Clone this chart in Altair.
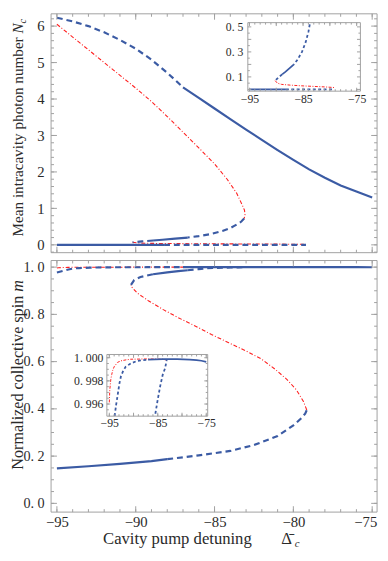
import altair as alt
import pandas as pd

FONT = "Liberation Serif"
BLUE = "#3b5ba4"
RED = "#ff1f1f"
FRAME = "#a0a0a0"
TXT = "#2a2a2a"

# ---------------- tick positions / labels ----------------
X_MAJOR = [-95, -90, -85, -80, -75]
X_MINOR = list(range(-95, -74))
NC_MAJOR = [0, 1, 2, 3, 4, 5, 6]
NC_MINOR = [round(-0.2 + 0.2 * k, 2) for k in range(33)]
M_MAJOR = [0.0, 0.2, 0.4, 0.6, 0.8, 1.0]
M_MINOR = [round(0.05 * k, 2) for k in range(21)]
NCI_X_LABELS = [-95, -85, -75]
NCI_X_MINOR = list(range(-95, -74))
NCI_Y_LABELS = [0.1, 0.3, 0.5]
NCI_Y_MAJOR = [0.0, 0.1, 0.2, 0.3, 0.4, 0.5]
NCI_Y_MINOR = [0.05, 0.15, 0.25, 0.35, 0.45]
MI_X_LABELS = [-95, -85, -75]
MI_X_MINOR = list(range(-95, -74))
MI_Y_LABELS = [0.996, 0.998, 1.0]
MI_Y_MINOR = [0.9955, 0.996, 0.9965, 0.997, 0.9975, 0.998, 0.9985, 0.999, 0.9995, 1.0]

# ---------------- data: mean intracavity photon number ----------------
NC_T1_DASH_X = [-95, -94, -93, -92, -91, -90, -89, -88, -87]
NC_T1_DASH_Y = [6.23, 6.13, 6.00, 5.83, 5.62, 5.38, 5.08, 4.72, 4.32]
NC_T1_SOLID_X = [-87, -86, -85, -84, -83, -82, -81, -80, -79, -78, -77, -76, -75]
NC_T1_SOLID_Y = [4.32, 4.03, 3.74, 3.45, 3.16, 2.88, 2.60, 2.33, 2.07, 1.84, 1.63, 1.46, 1.30]
NC_T2_RED_X = [-95, -94, -93, -92, -91, -90, -89, -88, -87, -86, -85, -84.2, -83.6, -83.25, -83.1, -83.07, -83.12]
NC_T2_RED_Y = [6.05, 5.70, 5.35, 5.00, 4.65, 4.30, 3.93, 3.52, 3.09, 2.66, 2.22, 1.80, 1.42, 1.10, 0.95, 0.83, 0.72]
NC_T3_DASH1_X = [-83.12, -83.3, -83.5, -83.75, -84.0, -84.5, -85.2, -86.0, -86.7]
NC_T3_DASH1_Y = [0.72, 0.64, 0.58, 0.52, 0.46, 0.38, 0.30, 0.24, 0.20]
NC_T3_SOLID_X = [-86.7, -87.5, -88.3, -88.9]
NC_T3_SOLID_Y = [0.20, 0.17, 0.14, 0.12]
NC_T3_DASH2_X = [-88.9, -89.6, -90.2]
NC_T3_DASH2_Y = [0.12, 0.095, 0.07]
NC_T4_RED_X = [-90.2, -89.8, -89.0, -87.0, -85.0, -83.0, -81.0, -79.2]
NC_T4_RED_Y = [0.07, 0.05, 0.04, 0.033, 0.028, 0.024, 0.02, 0.015]
NC_T5_SOLID_X = [-95, -88.2]
NC_T5_SOLID_Y = [0.0, 0.0]
NC_T5_DASH_X = [-88.2, -79.2]
NC_T5_DASH_Y = [0.0, 0.0]

# ---------------- data: normalized collective spin ----------------
M_A_SOLID_X = [-95, -93, -91, -89, -88]
M_A_SOLID_Y = [0.148, 0.157, 0.167, 0.179, 0.187]
M_A_DASH_X = [-88, -86, -84, -82.5, -81, -80, -79.5, -79.25, -79.15]
M_A_DASH_Y = [0.187, 0.203, 0.222, 0.247, 0.285, 0.33, 0.36, 0.38, 0.395]
M_B_RED_X = [-79.15, -79.35, -79.8, -80.4, -81.2, -82.05, -83.0, -84.1, -85.2, -86.2, -87.3, -88.25, -89.2, -89.9, -90.25, -90.3]
M_B_RED_Y = [0.395, 0.43, 0.48, 0.524, 0.57, 0.612, 0.645, 0.68, 0.715, 0.75, 0.786, 0.82, 0.858, 0.89, 0.915, 0.925]
M_C_DASH1_X = [-90.3, -90.1, -89.7, -88.9]
M_C_DASH1_Y = [0.925, 0.945, 0.958, 0.970]
M_C_SOLID_X = [-88.9, -88.0, -87.3, -86.7]
M_C_SOLID_Y = [0.970, 0.978, 0.983, 0.987]
M_C_DASH2_X = [-86.7, -86.0, -85.5, -85.0, -84.5, -84.0, -83.5, -83.15]
M_C_DASH2_Y = [0.987, 0.9915, 0.99516, 0.9964, 0.99755, 0.9985, 0.99908, 0.9998]
M_D_RED_X = [-95, -94.9, -94.7, -94.5, -94.3, -94.0, -93.3, -92.6, -91.5, -90.6, -87, -84, -83.15]
M_D_RED_Y = [0.99614, 0.9972, 0.9981, 0.99855, 0.9989, 0.99922, 0.9996, 0.99973, 0.99982, 0.99987, 0.9999, 0.99987, 0.9998]
M_E_DASH_X = [-95, -94.6, -94.2, -93.9, -93.6, -93.3, -92.9, -92.6, -92.1, -91.6, -90.5, -89.25, -87]
M_E_DASH_Y = [0.977, 0.984, 0.991, 0.99497, 0.9959, 0.99671, 0.9978, 0.99839, 0.9989, 0.99923, 0.99952, 0.99973, 0.99983]
M_E_SOLID_X = [-87, -84, -81, -78.4, -77, -76, -75]
M_E_SOLID_Y = [0.99983, 0.99987, 0.99987, 0.99984, 0.9998, 0.99974, 0.99965]

# ---------------- layout (one view, pixel ranges) ----------------
VW, VH = 380, 553
PX = [44, 377]                      # both main panels, x pixel range
TOP_Y = [244, 0]
BOT_Y = [509, 252]
X_DOMAIN = [-95.37, -74.69]
NC_DOMAIN = [-0.215, 6.337]
M_DOMAIN = [-0.037, 1.028]
NCI_XD, NCI_YD = [-95.3, -74.3], [-0.014, 0.534]
NCI_XR, NCI_YR = [245, 360], [79, 9]
MI_XD, MI_YD = [-95.5, -74.7], [0.99495, 1.00028]
MI_XR, MI_YR = [101, 204], [411, 348]

ONE = pd.DataFrame({"k": [0]})


def segs(*specs, lo=None, hi=None):
    rows = []
    for k, (xs, ys) in enumerate(specs):
        for i, (x, y) in enumerate(zip(xs, ys)):
            if lo is not None and y < lo:
                continue
            if hi is not None and y > hi:
                continue
            rows.append({"seg": k, "i": i, "x": x, "y": y})
    return pd.DataFrame(rows)


def sc(domain, rng):
    return alt.Scale(domain=domain, range=rng, nice=False, zero=False)


def lines(solid, dashed, red, xs, ys, lw, dash, rdash, rlw, xaxis=None, yaxis=None):
    def enc(ax_x=None, ax_y=None):
        return dict(
            x=alt.X("x:Q", scale=xs, axis=ax_x, title=None),
            y=alt.Y("y:Q", scale=ys, axis=ax_y, title=None),
            detail="seg:N",
            order="i:Q",
        )
    return [
        alt.Chart(red).mark_line(color=RED, strokeWidth=rlw, strokeDash=rdash).encode(**enc()),
        alt.Chart(dashed).mark_line(color=BLUE, strokeWidth=lw, strokeDash=dash).encode(**enc()),
        alt.Chart(solid).mark_line(color=BLUE, strokeWidth=lw).encode(**enc(xaxis, yaxis)),
    ]


def hticks(vals, xs, dom, y_px, length, direction):
    v = [t for t in vals if dom[0] <= t <= dom[1]]
    return alt.Chart(pd.DataFrame({"v": v})).mark_rule(color=FRAME, strokeWidth=1).encode(
        x=alt.X("v:Q", scale=xs, axis=None),
        y=alt.value(y_px), y2=alt.value(y_px + direction * length))


def vticks(vals, ys, dom, x_px, length, direction):
    v = [t for t in vals if dom[0] <= t <= dom[1]]
    return alt.Chart(pd.DataFrame({"v": v})).mark_rule(color=FRAME, strokeWidth=1).encode(
        y=alt.Y("v:Q", scale=ys, axis=None),
        x=alt.value(x_px), x2=alt.value(x_px + direction * length))


def frame_ticks(xs, xd, ys, yd, xr, yr, xmaj, xmin, ymaj, ymin, lmaj, lmin):
    x0, x1 = xr
    y0, y1 = yr
    return [
        hticks(xmin, xs, xd, y0, lmin, -1), hticks(xmaj, xs, xd, y0, lmaj, -1),
        hticks(xmin, xs, xd, y1, lmin, 1), hticks(xmaj, xs, xd, y1, lmaj, 1),
        vticks(ymin, ys, yd, x0, lmin, 1), vticks(ymaj, ys, yd, x0, lmaj, 1),
        vticks(ymin, ys, yd, x1, lmin, -1), vticks(ymaj, ys, yd, x1, lmaj, -1),
    ]


def vtext(text, x, y, size, align, style="normal"):
    return alt.Chart(ONE).mark_text(
        text=text, angle=270, align=align, baseline="alphabetic", font=FONT,
        fontSize=size, fontStyle=style, color=TXT).encode(x=alt.value(x), y=alt.value(y))


def htext(text, x, y, size, align, style="normal"):
    return alt.Chart(ONE).mark_text(
        text=text, align=align, baseline="alphabetic", font=FONT,
        fontSize=size, fontStyle=style, color=TXT).encode(x=alt.value(x), y=alt.value(y))


def box(xr, yr):
    return alt.Chart(ONE).mark_rect(fill="white", stroke=FRAME, strokeWidth=1).encode(
        x=alt.value(xr[0]), x2=alt.value(xr[1]), y=alt.value(yr[1]), y2=alt.value(yr[0]))


def lab_expr(fmt):
    return "replace(format(datum.value, '" + fmt + "'), '.', '. ')"


def axis(orient, values, size, pad, offset, fmt=None, expr=None, **extra):
    kw = dict(values=values, ticks=False, domain=False, grid=False, orient=orient, title=None,
              labelFont=FONT, labelFontSize=size, labelPadding=pad, labelColor=TXT, offset=offset,
              zindex=1)
    if expr is not None:
        kw["labelExpr"] = expr
    else:
        kw["format"] = fmt
    kw.update(extra)
    return alt.Axis(**kw)


# ================= top panel =================
xs_main_t = sc(X_DOMAIN, PX)
ys_nc = sc(NC_DOMAIN, TOP_Y)
nc_solid = segs((NC_T1_SOLID_X, NC_T1_SOLID_Y), (NC_T3_SOLID_X, NC_T3_SOLID_Y), (NC_T5_SOLID_X, NC_T5_SOLID_Y))
nc_dash = segs((NC_T1_DASH_X, NC_T1_DASH_Y), (NC_T3_DASH1_X, NC_T3_DASH1_Y), (NC_T3_DASH2_X, NC_T3_DASH2_Y), (NC_T5_DASH_X, NC_T5_DASH_Y))
nc_red = segs((NC_T2_RED_X, NC_T2_RED_Y), (NC_T4_RED_X, NC_T4_RED_Y))
nc_yaxis = axis("left", NC_MAJOR, 15, 7, -PX[0], fmt="d")

xs_nci = sc(NCI_XD, NCI_XR)
ys_nci = sc(NCI_YD, NCI_YR)
nci_solid = segs((NC_T3_SOLID_X, NC_T3_SOLID_Y), (NC_T5_SOLID_X, NC_T5_SOLID_Y), hi=0.534)
nci_dash = segs((NC_T3_DASH1_X, NC_T3_DASH1_Y), (NC_T3_DASH2_X, NC_T3_DASH2_Y), (NC_T5_DASH_X, NC_T5_DASH_Y), hi=0.534)
nci_red = segs((NC_T4_RED_X, NC_T4_RED_Y), hi=0.534)
nci_xaxis = axis("bottom", NCI_X_LABELS, 12, 3, -(VH - NCI_YR[0]), fmt="d")
nci_yaxis = axis("left", NCI_Y_LABELS, 12, 5, -NCI_XR[0], expr=lab_expr(".1f"))

top_layers = [
    box(PX, TOP_Y),
    *lines(nc_solid, nc_dash, nc_red, xs_main_t, ys_nc, 2.2, [6, 4], [4, 2, 1, 2], 1.1, None, nc_yaxis),
    *frame_ticks(xs_main_t, X_DOMAIN, ys_nc, NC_DOMAIN, PX, TOP_Y, X_MAJOR, X_MINOR, NC_MAJOR, NC_MINOR, 6, 3),
    vtext("Mean intracavity photon number", 15, 24, 15.5, "right"),
    vtext("N", 15, 20, 15.5, "left", "italic"),
    vtext("c", 18, 10, 10.5, "left", "italic"),
    box(NCI_XR, NCI_YR),
    *lines(nci_solid, nci_dash, nci_red, xs_nci, ys_nci, 1.8, [3, 2.5], [3, 1.5, 1, 1.5], 1.0, nci_xaxis, nci_yaxis),
    *frame_ticks(xs_nci, NCI_XD, ys_nci, NCI_YD, NCI_XR, NCI_YR, X_MAJOR, NCI_X_MINOR, NCI_Y_MAJOR, NCI_Y_MINOR, 3.5, 2),
]

# ================= bottom panel =================
xs_main_b = sc(X_DOMAIN, PX)
ys_m = sc(M_DOMAIN, BOT_Y)
m_solid = segs((M_A_SOLID_X, M_A_SOLID_Y), (M_C_SOLID_X, M_C_SOLID_Y), (M_E_SOLID_X, M_E_SOLID_Y))
m_dash = segs((M_A_DASH_X, M_A_DASH_Y), (M_C_DASH1_X, M_C_DASH1_Y), (M_C_DASH2_X, M_C_DASH2_Y), (M_E_DASH_X, M_E_DASH_Y))
m_red = segs((M_B_RED_X, M_B_RED_Y), (M_D_RED_X, M_D_RED_Y))
m_xaxis = axis("bottom", X_MAJOR, 15, 3, -(VH - BOT_Y[0]), fmt="d",
               labelOffset={"condition": {"test": "datum.value == -75", "value": -7}, "value": 0})
m_yaxis = axis("left", M_MAJOR, 14.5, 7, -PX[0], expr=lab_expr(".1f"))

xs_mi = sc(MI_XD, MI_XR)
ys_mi = sc(MI_YD, MI_YR)
mi_solid = segs((M_C_SOLID_X, M_C_SOLID_Y), (M_E_SOLID_X, M_E_SOLID_Y), lo=0.99495)
mi_dash = segs((M_C_DASH2_X, M_C_DASH2_Y), (M_E_DASH_X, M_E_DASH_Y), lo=0.99495)
mi_red = segs((M_D_RED_X, M_D_RED_Y), lo=0.99495)
mi_xaxis = axis("bottom", MI_X_LABELS, 12, 2, -(VH - MI_YR[0]), fmt="d")
mi_yaxis = axis("left", MI_Y_LABELS, 12, 4, -MI_XR[0], expr=lab_expr(".3f"))

bot_layers = [
    box(PX, BOT_Y),
    *lines(m_solid, m_dash, m_red, xs_main_b, ys_m, 2.2, [6, 4], [4, 2, 1, 2], 1.1, m_xaxis, m_yaxis),
    *frame_ticks(xs_main_b, X_DOMAIN, ys_m, M_DOMAIN, PX, BOT_Y, X_MAJOR, X_MINOR, M_MAJOR, M_MINOR, 6, 3),
    vtext("Normalized collective spin", 15, 288, 16.5, "right"),
    vtext("m", 15, 284, 16.5, "left", "italic"),
    htext("Cavity pump detuning", 249, 542, 17, "right"),
    htext("\u0394\u0304", 279, 542, 17, "left"),
    htext("c", 293, 545, 11, "left", "italic"),
    box(MI_XR, MI_YR),
    *lines(mi_solid, mi_dash, mi_red, xs_mi, ys_mi, 1.8, [3, 2.5], [3, 1.5, 1, 1.5], 1.0, mi_xaxis, mi_yaxis),
    *frame_ticks(xs_mi, MI_XD, ys_mi, MI_YD, MI_XR, MI_YR, X_MAJOR, MI_X_MINOR, MI_Y_LABELS, MI_Y_MINOR, 3.5, 2),
]

chart = alt.layer(*top_layers, *bot_layers).resolve_scale(
    x="independent", y="independent"
).properties(
    width=VW, height=VH,
    autosize=alt.AutoSizeParams(type="none"),
    padding=0,
).configure_view(strokeWidth=0)

chart.save("out.html", embed_options={"renderer": "svg", "actions": False})
